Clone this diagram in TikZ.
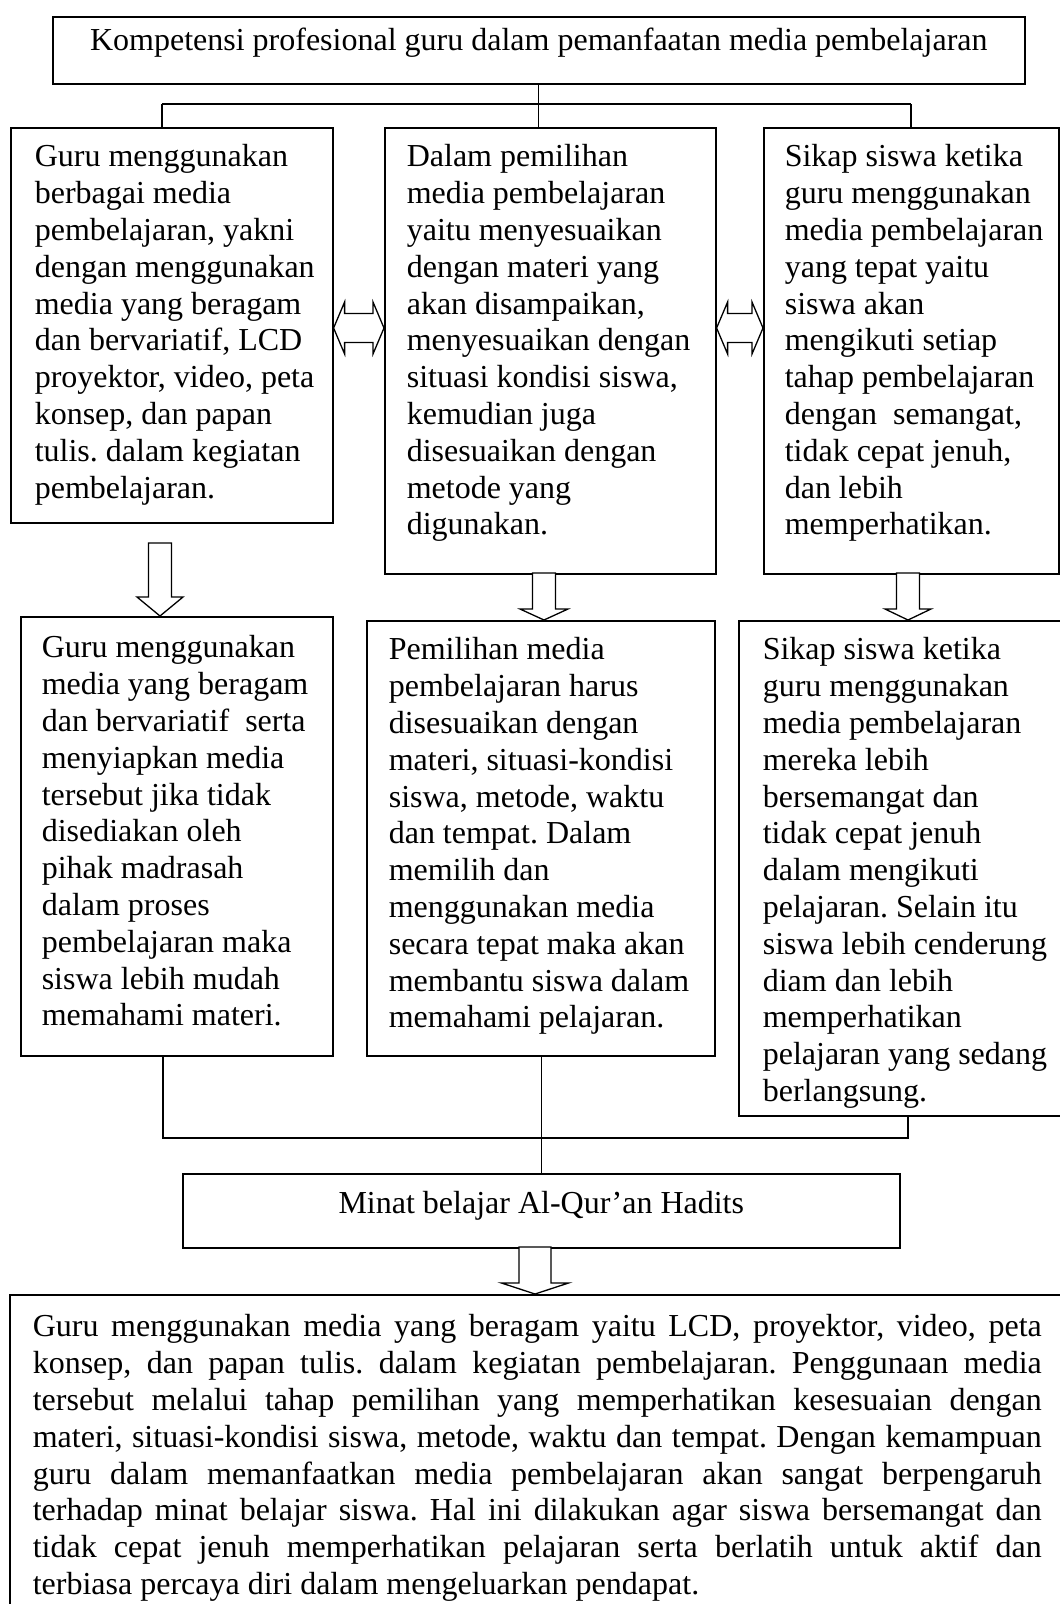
\documentclass[tikz,border=0pt]{standalone}
\usepackage{fontspec}
\setmainfont{Liberation Serif}
\usetikzlibrary{calc}
\frenchspacing
\tikzset{
  card/.style={draw=black, line width=1.6pt, inner sep=0pt, anchor=north west},
  link/.style={draw=black, line width=1.3pt},
  blockarrow/.style={draw=black, line width=1.3pt, fill=white, line join=miter},
}
\newcommand\bx[5]{\hspace*{#1}\parbox[c][#3][t]{#2}{\raggedright\rule{0pt}{#4}#5}}
\newcommand\cbx[4]{\parbox[c][#2][t]{#1}{\centering\rule{0pt}{#3}#4}}
\newcommand\jl[1]{\makebox[1009pt][s]{#1}}
\newcommand\blockdown[6]{\draw[blockarrow] (#1-#5,#2) -- (#1+#5,#2) -- (#1+#5,#3-#4) -- (#1+#6,#3-#4) -- (#1,#3) -- (#1-#6,#3-#4) -- (#1-#5,#3-#4) -- cycle;}
\newcommand\dblarrow[2]{\draw[blockarrow] (#1.east |- ya) -- ++(11,-26) -- ++(0,11.5) -- ($(#2.west |- ya)+(-11,-14.5)$) -- ++(0,-11.5) -- (#2.west |- ya) -- ++(-11,26) -- ++(0,-11.5) -- ($(#1.east |- ya)+(11,14.5)$) -- ++(0,11.5) -- cycle;}
\hbadness=10000 \vbadness=10000 \hfuzz=50pt \vfuzz=50pt
\begin{document}
\frenchspacing
\begin{tikzpicture}[x=1pt,y=-1pt,font=\fontsize{32pt}{36.8pt}\selectfont]
\useasboundingbox (0,0) rectangle (1060,1604);
\fill[white] (0,0) rectangle (1060,1604);
\clip (0,0) rectangle (1060,1604);

\node[card] (T) at (52,16) {\cbx{972pt}{67pt}{34pt}{Kompetensi profesional guru dalam pemanfaatan media pembelajaran}};

\node[card] (L1) at (10,127) {\bx{24pt}{298pt}{395pt}{39pt}{Guru menggunakan\\ berbagai media\\ pembelajaran, yakni\\ dengan menggunakan\\ media yang beragam\\ dan bervariatif, LCD\\ proyektor, video, peta\\ konsep, dan papan\\ tulis. dalam kegiatan\\ pembelajaran.}};

\node[card] (M1) at (384,127) {\bx{22pt}{309pt}{446pt}{39pt}{Dalam pemilihan\\ media pembelajaran\\ yaitu menyesuaikan\\ dengan materi yang\\ akan disampaikan,\\ menyesuaikan dengan\\ situasi kondisi siswa,\\ kemudian juga\\ disesuaikan dengan\\ metode yang\\ digunakan.}};

\node[card] (R1) at (763,127) {\bx{21pt}{274pt}{446pt}{39pt}{Sikap siswa ketika\\ guru menggunakan\\ media pembelajaran\\ yang tepat yaitu\\ siswa akan\\ mengikuti setiap\\ tahap pembelajaran\\ dengan\ \ semangat,\\ tidak cepat jenuh,\\ dan lebih\\ memperhatikan.}};

\node[card] (L2) at (20,616) {\bx{21pt}{291pt}{439pt}{41pt}{Guru menggunakan\\ media yang beragam\\ dan bervariatif\ \ serta\\ menyiapkan media\\ tersebut jika tidak\\ disediakan oleh\\ pihak madrasah\\ dalam proses\\ pembelajaran maka\\ siswa lebih mudah\\ memahami materi.}};

\node[card] (M2) at (366,620) {\bx{22pt}{326pt}{435pt}{39pt}{Pemilihan media\\ pembelajaran harus\\ disesuaikan dengan\\ materi, situasi-kondisi\\ siswa, metode, waktu\\ dan tempat. Dalam\\ memilih dan\\ menggunakan media\\ secara tepat maka akan\\ membantu siswa dalam\\ memahami pelajaran.}};

\node[card] (R2) at (738,620) {\bx{24pt}{310pt}{495pt}{39pt}{Sikap siswa ketika\\ guru menggunakan\\ media pembelajaran\\ mereka lebih\\ bersemangat dan\\ tidak cepat jenuh\\ dalam mengikuti\\ pelajaran. Selain itu\\ siswa lebih cenderung\\ diam dan lebih\\ memperhatikan\\ pelajaran yang sedang\\ berlangsung.}};

\node[card] (Mi) at (182,1173) {\cbx{717pt}{74pt}{40pt}{Minat belajar Al-Qur’an Hadits}};

\node[card] (B) at (9,1294) {\bx{23pt}{1040pt}{400pt}{42pt}{\jl{Guru menggunakan media yang beragam yaitu LCD, proyektor, video, peta}\\ \jl{konsep, dan papan tulis. dalam kegiatan pembelajaran. Penggunaan media}\\ \jl{tersebut melalui tahap pemilihan yang memperhatikan kesesuaian dengan}\\ \jl{materi, situasi-kondisi siswa, metode, waktu dan tempat. Dengan kemampuan}\\ \jl{guru dalam memanfaatkan media pembelajaran akan sangat berpengaruh}\\ \jl{terhadap minat belajar siswa. Hal ini dilakukan agar siswa bersemangat dan}\\ \jl{tidak cepat jenuh memperhatikan pelajaran serta berlatih untuk aktif dan}\\ terbiasa percaya diri dalam mengeluarkan pendapat.}};

% top tree connector
\coordinate (hL) at (162,104);
\coordinate (hR) at (911,104);
\draw[link] (T.south) -- (T.south |- hL);
\draw[link] (hL) -- (hR);
\draw[link] (hL) -- (hL |- L1.north);
\draw[link] (T.south |- hL) -- (T.south |- M1.north);
\draw[link] (hR) -- (hR |- R1.north);

% bottom tree connector
\coordinate (jL) at (163,1138);
\coordinate (jR) at (908,1138);
\draw[link] (jL |- L2.south) -- (jL) -- (jR) -- (jR |- R2.south);
\draw[link] (Mi.north |- M2.south) -- (Mi.north);

% double arrows
\coordinate (ya) at (0,328);
\dblarrow{L1}{M1}
\dblarrow{M1}{R1}

% block down arrows
\blockdown{160}{543}{616}{19}{11.5}{23}
\blockdown{544}{573}{620}{11}{11.5}{24}
\blockdown{908}{573}{620}{11}{11.5}{23}
\blockdown{535}{1247}{1294}{11}{16}{33.5}
\end{tikzpicture}
\end{document}
